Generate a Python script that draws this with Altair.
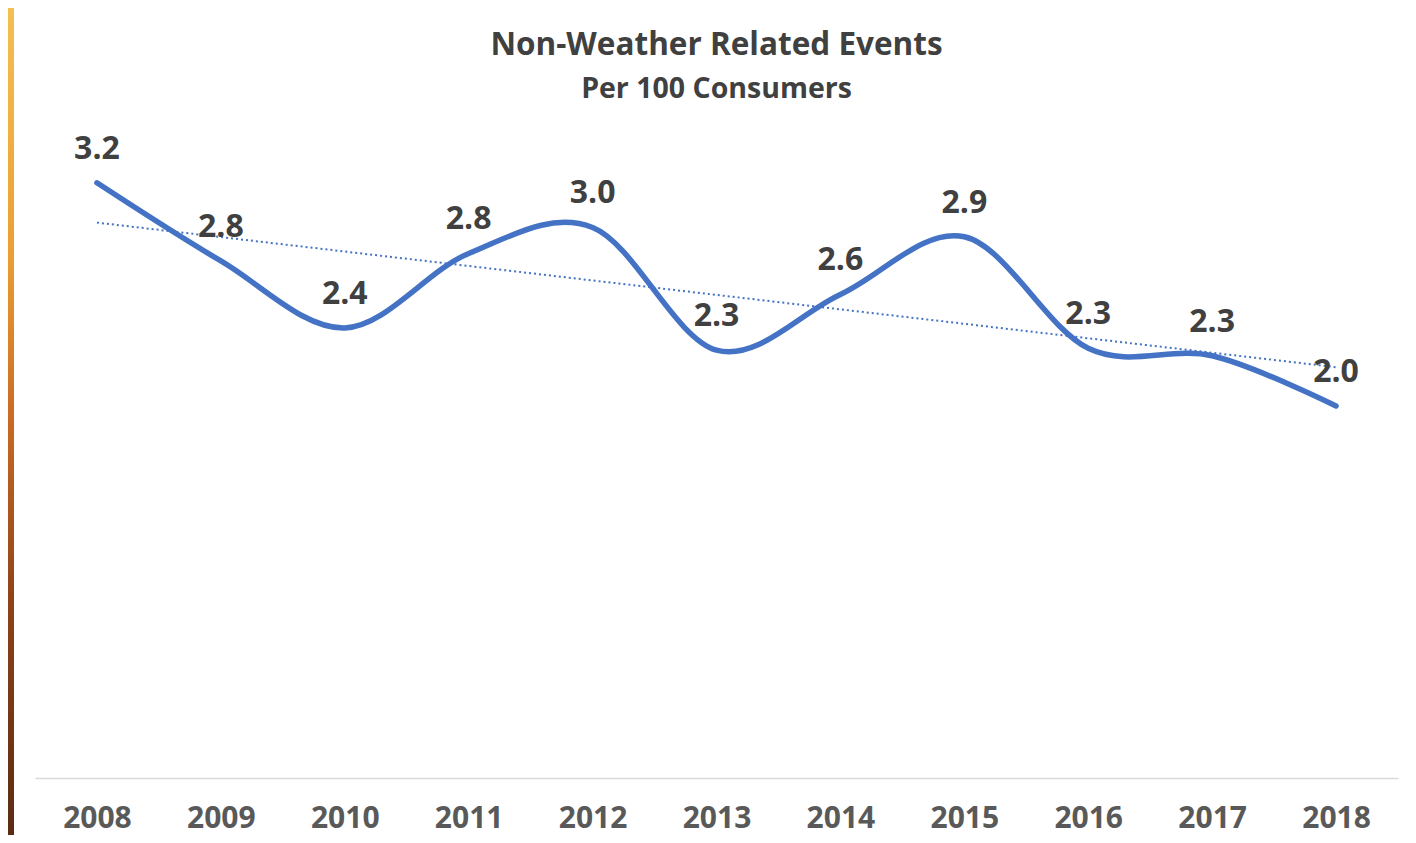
import altair as alt
import pandas as pd

years = [2008, 2009, 2010, 2011, 2012, 2013, 2014, 2015, 2016, 2017, 2018]
values = [3.20, 2.78, 2.42, 2.82, 2.96, 2.30, 2.60, 2.91, 2.31, 2.27, 2.00]
labels = ["3.2", "2.8", "2.4", "2.8", "3.0", "2.3", "2.6", "2.9", "2.3", "2.3", "2.0"]

df = pd.DataFrame({"year": years, "value": values, "label": labels})

W, H = 1363, 651
PAD = {"left": 27, "top": 119, "right": 10, "bottom": 57}

BLUE = "#4472C4"
FONT = "Open Sans"

x = alt.X("year:Q",
          scale=alt.Scale(domain=[2007.5, 2018.5], nice=False, zero=False),
          axis=alt.Axis(values=years, format="d", title=None, ticks=False, grid=False,
                        domainColor="#d9d9d9", domainWidth=1.5,
                        labelFont=FONT, labelFontSize=30, labelFontWeight="bold",
                        labelColor="#595959", labelPadding=25))
y = alt.Y("value:Q", scale=alt.Scale(domain=[0, 3.5], nice=False), axis=None)

base = alt.Chart(df)

strip = alt.Chart(pd.DataFrame({"k": [0]})).mark_rect(
    color=alt.LinearGradient(
        gradient="linear", x1=0, x2=0, y1=0, y2=1,
        stops=[alt.GradientStop(color="#F4C050", offset=0),
               alt.GradientStop(color="#EC9E32", offset=0.3),
               alt.GradientStop(color="#C86A24", offset=0.5),
               alt.GradientStop(color="#8E4219", offset=0.72),
               alt.GradientStop(color="#5A2C12", offset=1)])
).encode(x=alt.value(-27), x2=alt.value(-21), y=alt.value(-119), y2=alt.value(H + 57))

line = base.mark_line(color=BLUE, strokeWidth=5.5, interpolate="cardinal",
                      strokeCap="round", strokeJoin="round").encode(x=x, y=y)

trend = base.transform_regression("year", "value", extent=[2008, 2018]).mark_line(
    color=BLUE, strokeWidth=2, strokeDash=[2, 3]).encode(x=x, y=y)

text = base.mark_text(font=FONT, fontSize=32, fontWeight="bold", color="#404040",
                      dy=-34, baseline="middle", align="center").encode(
    x=x, y=y, text="label:N")

chart = alt.layer(strip, trend, line, text).properties(
    width=W, height=H,
    autosize=alt.AutoSizeParams(type="none"),
    padding=PAD,
    background="white",
    title=alt.TitleParams(
        text="Non-Weather Related Events", subtitle="Per 100 Consumers",
        font=FONT, fontSize=31.5, fontWeight="bold", color="#404040",
        subtitleFont=FONT, subtitleFontSize=28.5, subtitleFontWeight="bold",
        subtitleColor="#404040", anchor="middle", offset=24, subtitlePadding=13,
        dy=119)
).configure_view(stroke=None)

chart.save("out.html", embed_options={"renderer": "svg", "actions": False})
